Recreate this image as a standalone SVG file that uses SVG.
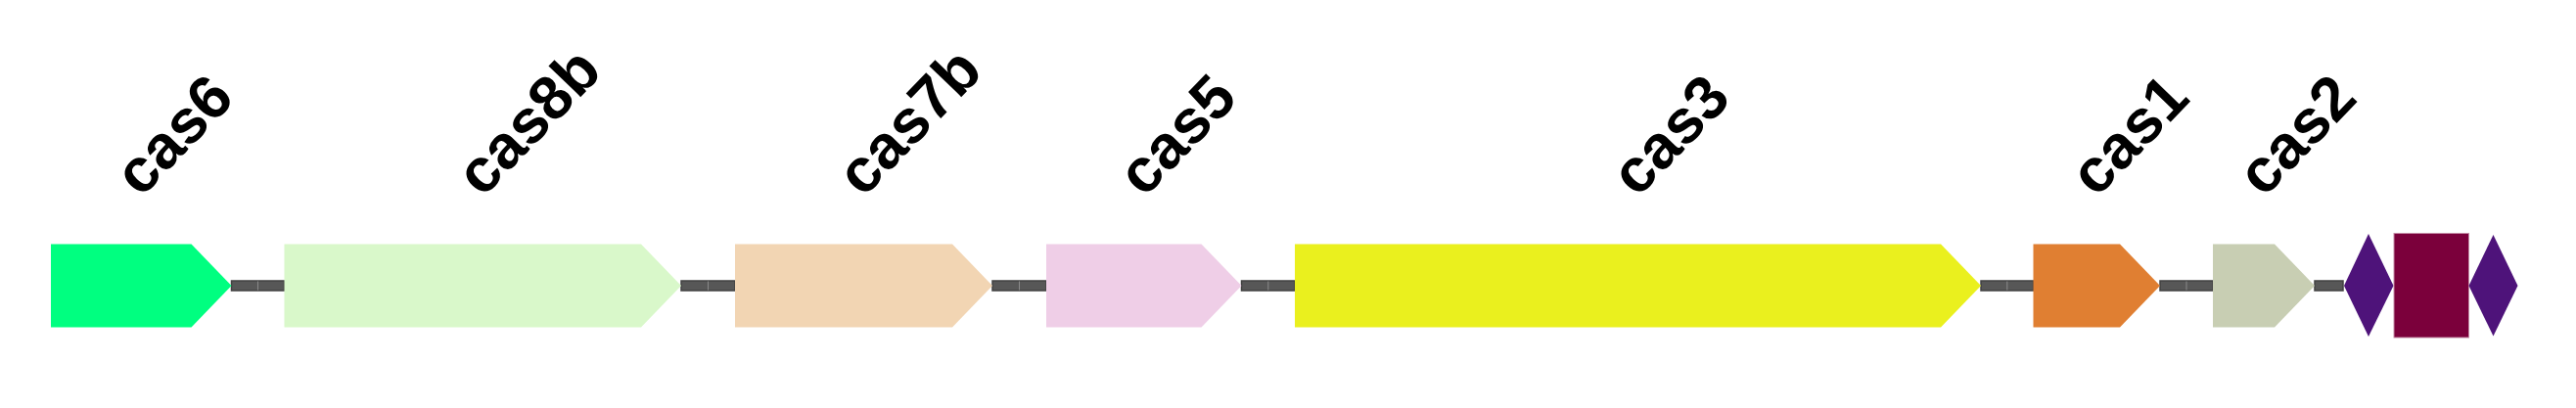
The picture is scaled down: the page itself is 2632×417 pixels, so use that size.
<svg xmlns="http://www.w3.org/2000/svg" width="2632" height="417" viewBox="0 0 2632 417">
<style>
.lbl{font-family:"Liberation Sans",Arial,sans-serif;font-weight:bold;font-size:63px;fill:#000}
.con{fill:#575757;stroke:#414141;stroke-width:1.5}
.sep{stroke:#8a8a8a;stroke-width:1}
.crispr{fill:#4e137a}
</style>
<rect width="2632" height="417" fill="#ffffff"/>
<g id="connectors">
<rect class="con" x="236.5" y="287" width="54" height="10"/><line class="sep" x1="263.5" y1="287.5" x2="263.5" y2="296.5"/>
<rect class="con" x="696" y="287" width="55" height="10"/><line class="sep" x1="723.5" y1="287.5" x2="723.5" y2="296.5"/>
<rect class="con" x="1014" y="287" width="55" height="10"/><line class="sep" x1="1041.5" y1="287.5" x2="1041.5" y2="296.5"/>
<rect class="con" x="1268.5" y="287" width="54.5" height="10"/><line class="sep" x1="1295.8" y1="287.5" x2="1295.8" y2="296.5"/>
<rect class="con" x="2024" y="287" width="53.5" height="10"/><line class="sep" x1="2050.8" y1="287.5" x2="2050.8" y2="296.5"/>
<rect class="con" x="2207" y="287" width="54" height="10"/><line class="sep" x1="2234" y1="287.5" x2="2234" y2="296.5"/>
<rect class="con" x="2365" y="287" width="29" height="10"/>
</g>
<g id="cas6">
<polygon points="52,249.5 195.5,249.5 236.5,292 195.5,334.5 52,334.5" fill="#00ff80"/>
<text class="lbl" transform="translate(144,203) rotate(-46)">cas6</text>
</g>
<g id="cas8b">
<polygon points="290.5,249.5 655,249.5 696,292 655,334.5 290.5,334.5" fill="#d9f8ca"/>
<text class="lbl" transform="translate(493,203) rotate(-46)">cas8b</text>
</g>
<g id="cas7b">
<polygon points="751,249.5 973,249.5 1014,292 973,334.5 751,334.5" fill="#f2d5b3"/>
<text class="lbl" transform="translate(882,203) rotate(-46)">cas7b</text>
</g>
<g id="cas5">
<polygon points="1069,249.5 1227.5,249.5 1268.5,292 1227.5,334.5 1069,334.5" fill="#efcee7"/>
<text class="lbl" transform="translate(1169,203) rotate(-46)">cas5</text>
</g>
<g id="cas3">
<polygon points="1323,249.5 1983,249.5 2024,292 1983,334.5 1323,334.5" fill="#eaf01e"/>
<text class="lbl" transform="translate(1673,203) rotate(-46)">cas3</text>
</g>
<g id="cas1">
<polygon points="2077.5,249.5 2166,249.5 2207,292 2166,334.5 2077.5,334.5" fill="#e07f32"/>
<text class="lbl" transform="translate(2142,203) rotate(-46)">cas1</text>
</g>
<g id="cas2">
<polygon points="2261,249.5 2324,249.5 2365,292 2324,334.5 2261,334.5" fill="#c8ceb3"/>
<text class="lbl" transform="translate(2313,203) rotate(-46)">cas2</text>
</g>
<g id="repeat1">
<polygon class="crispr" points="2395,292 2420,239 2445.5,292 2420,344"/>
</g>
<g id="spacer">
<rect x="2446" y="238.5" width="76.5" height="106.5" fill="#7b003b" stroke="#c48ba5" stroke-width="1"/>
</g>
<g id="repeat2">
<polygon class="crispr" points="2522.5,292 2547.5,240 2572.5,292 2547.5,343.5"/>
</g>
</svg>
